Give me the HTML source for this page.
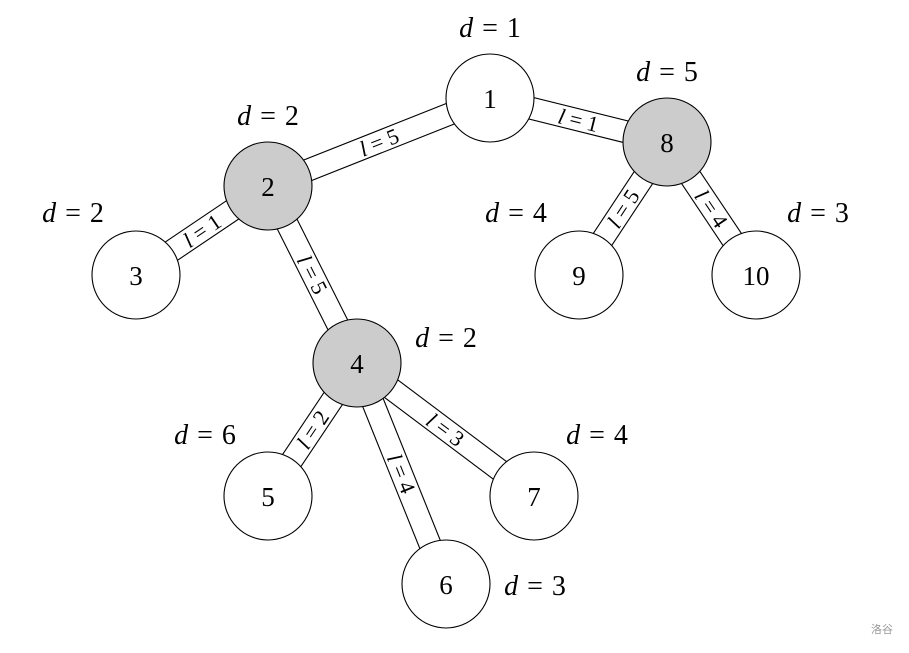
<!DOCTYPE html>
<html><head><meta charset="utf-8"><style>
html,body{margin:0;padding:0;background:#fff;}
svg{display:block;}
text{font-family:"Liberation Serif",serif;}
</style></head><body>
<svg id="s" width="909" height="653" viewBox="0 0 909 653" xmlns="http://www.w3.org/2000/svg"></svg>
<script>
const N={1:[490,98,0],8:[667,142,1],2:[268,186,1],3:[136,275,0],9:[579,275,0],10:[756,275,0],4:[357,363,1],5:[268,496,0],7:[534,496,0],6:[446,584,0]};
const E=[[1,2,5],[1,8,1],[2,3,1],[2,4,5],[8,9,5],[8,10,4],[4,5,2],[4,6,4],[4,7,3]];
const D=[[490,28,1],[667,72,5],[268,116,2],[73,213,2],[516,213,4],[818,213,3],[446,338,2],[205,435,6],[597,435,4],[535,586,3]];
const R=44,W=11;let h='';
for(const [a,b,l] of E){
 const [x1,y1]=N[a],[x2,y2]=N[b];
 const dx=x2-x1,dy=y2-y1,L=Math.hypot(dx,dy),ux=dx/L,uy=dy/L,px=-uy*W,py=ux*W;
 for(const s of[1,-1]) h+=`<line x1="${x1+s*px}" y1="${y1+s*py}" x2="${x2+s*px}" y2="${y2+s*py}" stroke="#000" stroke-width="1.1"/>`;
 const mx=(x1+x2)/2,my=(y1+y2)/2;
 let ang=Math.atan2(dy,dx)*180/Math.PI; if(ang>90)ang-=180; if(ang<=-90)ang+=180;
 h+=`<text x="${mx}" y="${my}" transform="rotate(${ang} ${mx} ${my})" font-size="22" text-anchor="middle" dominant-baseline="central"><tspan font-style="italic">l</tspan> = ${l}</text>`;
}
for(const k in N){const [x,y,g]=N[k];
 h+=`<circle cx="${x}" cy="${y}" r="${R}" fill="${g?'#cccccc':'#fff'}" stroke="#000" stroke-width="1.1"/>`;
 h+=`<text x="${x}" y="${y+1}" font-size="27" text-anchor="middle" dominant-baseline="central">${k}</text>`;}
for(const [x,y,v] of D) h+=`<text x="${x}" y="${y}" font-size="28" text-anchor="middle" dominant-baseline="central"><tspan font-style="italic">d</tspan> <tspan dx="2">=</tspan> <tspan dx="2">${v}</tspan></text>`;
h+=`<text x="882" y="633" font-size="11" fill="#999" text-anchor="middle" style="font-family:'Noto Sans CJK SC',sans-serif">洛谷</text>`;
document.getElementById('s').innerHTML=h;
</script>
</body></html>
